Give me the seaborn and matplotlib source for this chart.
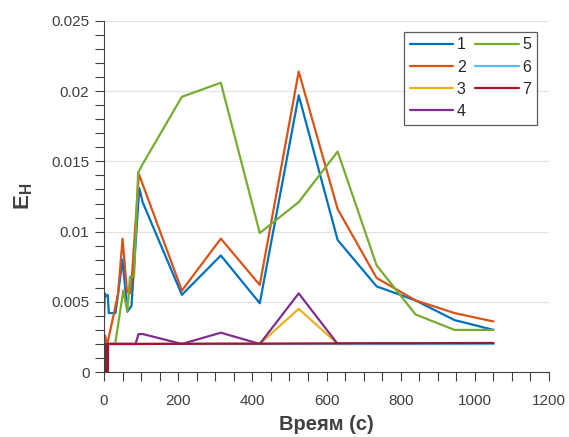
import numpy as np
import pandas as pd
import seaborn as sns
import matplotlib
matplotlib.use("Agg")
import matplotlib.pyplot as plt
from matplotlib.ticker import MultipleLocator

# Time samples (s) and E_H values for each series
t1 = [0, 2, 5, 10, 13, 31, 50, 63, 74, 95, 104, 210, 315, 420, 525, 630, 735, 840, 945, 1050]
e1 = [0.0038, 0.0056, 0.0054, 0.0055, 0.0042, 0.0042, 0.0080, 0.0043, 0.0047, 0.0131, 0.0121,
      0.0055, 0.0083, 0.0049, 0.0197, 0.0094, 0.0061, 0.0051, 0.0037, 0.0030]

t2 = [0, 3, 8, 27, 38, 50, 62, 72, 94, 210, 315, 420, 525, 630, 735, 840, 945, 1050]
e2 = [0.0022, 0.0026, 0.0019, 0.0042, 0.0056, 0.0095, 0.0057, 0.0056, 0.0141,
      0.0058, 0.0095, 0.0062, 0.0214, 0.0116, 0.0067, 0.0051, 0.0042, 0.0036]

t3 = [0, 105, 210, 315, 420, 525, 630, 735, 840, 945, 1050]
e3 = [0.0020, 0.0020, 0.0020, 0.0020, 0.0020, 0.0045, 0.0020, 0.0020, 0.0020, 0.0020, 0.0020]

t4 = [0, 85, 93, 105, 210, 315, 420, 525, 630, 735, 840, 945, 1050]
e4 = [0.0020, 0.0020, 0.0027, 0.0027, 0.0020, 0.0028, 0.0020, 0.0056, 0.0020,
      0.0020, 0.0020, 0.0020, 0.0020]

t5 = [30, 52, 63, 70, 81, 92, 104, 210, 315, 420, 525, 630, 735, 840, 945, 1050]
e5 = [0.0020, 0.0058, 0.0043, 0.0068, 0.0068, 0.0142, 0.0148, 0.0196, 0.0206,
      0.0099, 0.0121, 0.0157, 0.0076, 0.0041, 0.0030, 0.0030]

t6 = [0, 105, 210, 315, 420, 525, 630, 735, 840, 945, 1050]
e6 = [0.0020] * 11

t7 = [0, 1, 2, 3, 4, 5, 6, 7, 8, 9, 10, 11, 105, 210, 315, 420, 525, 630, 735, 840, 945, 1050]
e7 = [0.0, 0.0020, 0.0, 0.0020, 0.0, 0.0020, 0.0, 0.0020, 0.0, 0.0020, 0.0, 0.0020,
      0.00200, 0.00201, 0.00202, 0.00202, 0.00203, 0.00204, 0.00205, 0.00205,
      0.00206, 0.00207]

series_names = ["1", "2", "3", "4", "5", "6", "7"]
series_t = [t1, t2, t3, t4, t5, t6, t7]
series_e = [e1, e2, e3, e4, e5, e6, e7]

colors = ["#0072BD", "#D95319", "#EDB120", "#7E2F8E", "#77AC30", "#4DBEEE", "#A2142F"]

sns.set_theme(style="white")
plt.rcParams["font.family"] = ["Liberation Sans", "DejaVu Sans"]
plt.rcParams["mathtext.fontset"] = "custom"
plt.rcParams["mathtext.bf"] = "Liberation Sans:bold"
plt.rcParams["mathtext.rm"] = "Liberation Sans"

fig = plt.figure(figsize=(5.69, 4.37), dpi=100)
ax = fig.add_axes([0.1828, 0.1487, 0.7821, 0.8033])

for name, t, e, c in zip(series_names, series_t, series_e, colors):
    df = pd.DataFrame({"t": t, "E": e})
    sns.lineplot(data=df, x="t", y="E", ax=ax, color=c, lw=1.6, label=name,
                 estimator=None, sort=False)

ax.set_xlim(0, 1200)
ax.set_ylim(0, 0.025)
ax.xaxis.set_major_locator(MultipleLocator(200))
ax.xaxis.set_minor_locator(MultipleLocator(50))
ax.yaxis.set_minor_locator(MultipleLocator(0.001))
ax.set_yticks([0, 0.005, 0.01, 0.015, 0.02, 0.025])
ax.set_yticklabels(["0", "0.005", "0.01", "0.015", "0.02", "0.025"])

ax.grid(axis="y", which="major", color="#e3e3e3", lw=0.9)
ax.set_axisbelow(True)

for s in ("top", "right"):
    ax.spines[s].set_visible(False)
for s in ("left", "bottom"):
    ax.spines[s].set_color("#404040")
    ax.spines[s].set_linewidth(0.8)

ax.tick_params(which="both", direction="out", length=6.5, width=0.8, color="#404040",
               labelsize=11, labelcolor="#404040", left=True, bottom=True)
ax.tick_params(axis="x", which="major", pad=9.5)
ax.tick_params(axis="y", which="major", pad=4)

ax.set_xlabel("Вреям (с)", fontsize=14.5, fontweight="bold", color="#404040", labelpad=5)
ax.set_ylabel(r"$\mathbf{E_H}$", fontsize=16, color="#404040", labelpad=12)

leg = ax.legend(ncol=2, loc="upper right", bbox_to_anchor=(0.973, 0.969),
                borderaxespad=0, fontsize=11.5, frameon=True, fancybox=False,
                handlelength=2.7, handletextpad=0.25, columnspacing=0.6,
                labelspacing=0.45, borderpad=0.35)
leg.get_frame().set_edgecolor("#333333")
leg.get_frame().set_linewidth(0.9)
for txt in leg.get_texts():
    txt.set_color("#262626")

fig.savefig("out.png", dpi=100, facecolor="white")
